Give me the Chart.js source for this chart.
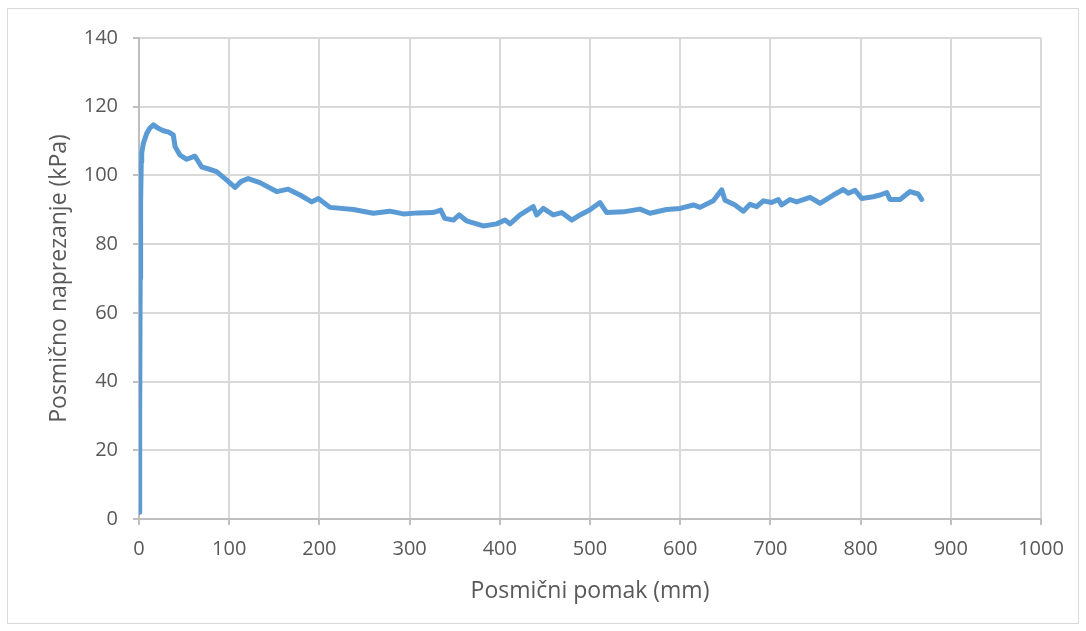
<!DOCTYPE html>
<html>
<head>
<meta charset="utf-8">
<script src="https://cdn.jsdelivr.net/npm/chart.js@4"></script>
<style>
  html, body { margin: 0; padding: 0; background: #fff; }
  #wrap { position: relative; width: 1086px; height: 631px; }
  #frame { position: absolute; left: 7px; top: 8px; width: 1070px; height: 614px; border: 1px solid #d9d9d9; }
  canvas { position: absolute; left: 0; top: 0; }
</style>
</head>
<body>
<div id="wrap">
  <div id="frame"></div>
  <canvas id="mycanvas" width="1086" height="631"></canvas>
</div>
<script>
// posmicni pomak (mm)
var pomak = [0, 0.5, 1, 1.3, 1.6, 2, 2.5, 3, 4.8, 8.5, 12, 15.9, 21.4, 27, 33, 38, 40, 45.5, 52.9, 62, 69.5, 78, 86, 97,
  106.4, 113, 121, 134, 152.6, 165.5, 178.5, 191.5, 198.8, 211.8, 237.6, 259.8, 278, 293, 309.6, 326, 334.5, 339,
  348.5, 355, 363, 381.7, 396.6, 405.8, 411.3, 422.4, 437.1, 440.9, 448.2, 459.3, 468.6, 479.7, 489, 500, 511,
  518.5, 537, 555.4, 566.5, 585, 600, 614.6, 622, 636.7, 646, 649.7, 660.8, 670, 677.4, 684.8, 692.1, 701.4,
  708.8, 712.5, 721.7, 729, 744, 755, 769.8, 780.8, 786.4, 793.8, 801.2, 814, 821.5, 829, 832.6, 843.7, 854.8,
  863.9, 867.7];
// posmicno naprezanje (kPa)
var naprezanje = [2, 3, 30, 70, 88, 92, 104, 106.5, 109.3, 112.2, 113.8, 114.7, 113.7, 113.0, 112.6, 111.8, 108.4, 105.9, 104.7, 105.6, 102.5, 101.8, 101.1, 98.7,
  96.5, 98.2, 99.1, 97.9, 95.3, 96.0, 94.3, 92.3, 93.3, 90.7, 90.1, 89.0, 89.6, 88.8, 89.1, 89.2, 89.9, 87.5,
  87.0, 88.5, 86.8, 85.3, 85.9, 87.0, 85.9, 88.5, 90.9, 88.5, 90.4, 88.5, 89.2, 87.0, 88.5, 90.0, 92.1,
  89.2, 89.4, 90.2, 89.0, 90.1, 90.4, 91.4, 90.7, 92.6, 95.8, 92.8, 91.4, 89.6, 91.6, 90.9, 92.6, 92.1,
  93.0, 91.4, 93.0, 92.3, 93.6, 91.9, 94.3, 95.9, 94.8, 95.7, 93.3, 93.8, 94.3, 95.0, 93.0, 93.0, 95.3,
  94.6, 93.0];
var xTicks = [0, 100, 200, 300, 400, 500, 600, 700, 800, 900, 1000];
var yTicks = [0, 20, 40, 60, 80, 100, 120, 140];

var points = [];
for (var i in pomak) {
  points.push({ x: pomak[i], y: naprezanje[i] });
}

var fontName = "'Open Sans', sans-serif";
var ctx = document.getElementById("mycanvas");

var chart = new Chart(ctx, {
  type: 'scatter',
  data: {
    datasets: [{
      data: points,
      showLine: true,
      borderColor: '#5b9bd5',
      backgroundColor: '#5b9bd5',
      borderWidth: 5,
      pointRadius: 0,
      tension: 0,
      borderCapStyle: 'round',
      borderJoinStyle: 'round'
    }]
  },
  options: {
    responsive: false,
    animation: false,
    layout: { padding: { left: 0, top: 38, right: 45, bottom: 0 } },
    plugins: { legend: { display: false }, tooltip: { enabled: false } },
    scales: {
      x: {
        type: 'linear',
        min: 0, max: 1000,
        afterBuildTicks: function(scale) { scale.ticks = xTicks.map(function(v) { return { value: v }; }); },
        afterFit: function(scale) { scale.height = 112; },
        grid: { color: '#d9d9d9', lineWidth: 2, tickLength: 6, tickColor: '#bfbfbf' },
        border: { color: '#bfbfbf', width: 2 },
        ticks: { color: '#595959', font: { family: fontName, size: 20 }, padding: 12, maxRotation: 0,
          callback: function(v) { return String(v); } },
        title: { display: true, text: 'Posmični pomak (mm)', color: '#595959', font: { family: fontName, size: 23 }, padding: { top: 0, bottom: 26 } }
      },
      y: {
        min: 0, max: 140,
        afterBuildTicks: function(scale) { scale.ticks = yTicks.map(function(v) { return { value: v }; }); },
        afterFit: function(scale) { scale.width = 139; },
        grid: { color: '#d9d9d9', lineWidth: 2, tickLength: 6, tickColor: '#bfbfbf' },
        border: { color: '#bfbfbf', width: 2 },
        ticks: { color: '#595959', font: { family: fontName, size: 20 }, padding: 15,
          callback: function(v) { return String(v); } },
        title: { display: true, text: 'Posmično naprezanje (kPa)', color: '#595959', font: { family: fontName, size: 23 }, padding: { top: 46, bottom: 0 } }
      }
    }
  }
});
</script>
</body>
</html>
